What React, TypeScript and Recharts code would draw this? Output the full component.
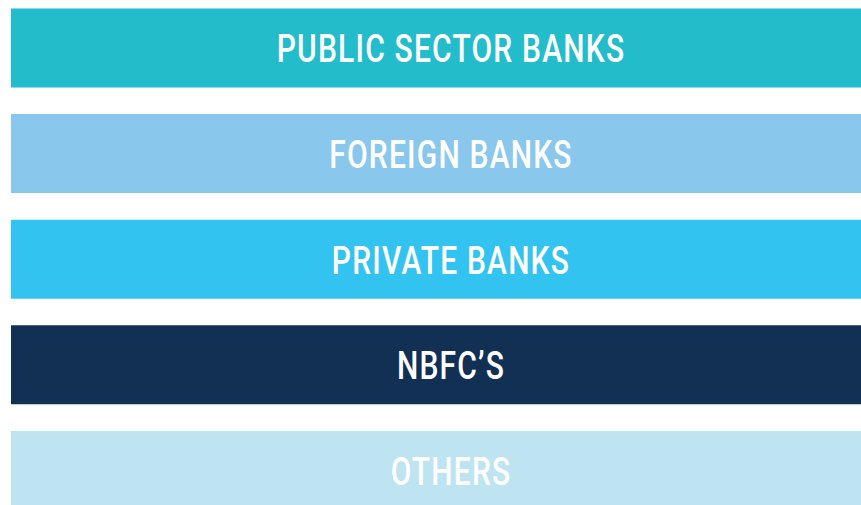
import React from 'react';
import { BarChart, Bar, XAxis, YAxis, Cell, LabelList } from 'recharts';

const categories = ['PUBLIC SECTOR BANKS', 'FOREIGN BANKS', 'PRIVATE BANKS', 'NBFC’S', 'OTHERS'];
const values = [1, 1, 1, 1, 1];
const colors = ['#22BCCB', '#89C7ED', '#33C3F0', '#122F54', '#BEE4F2'];

const data = categories.map((name, i) => ({ name, value: values[i] }));

// centred white caption inside each bar, squeezed to look condensed
const renderLabel = (props: any) => {
  const { x, y, width, height, value } = props;
  const cx = Number(x) + Number(width) / 2;
  const cy = Number(y) + Number(height) / 2;
  return (
    <g transform={`translate(${cx},${cy + 1}) scale(0.79,1)`}>
      <text
        x={0}
        y={0}
        fill="#FFFFFF"
        textAnchor="middle"
        dominantBaseline="central"
        fontFamily="Roboto, sans-serif"
        fontSize={38}
        fontWeight={500}
        letterSpacing={1.5}
      >
        {value}
      </text>
    </g>
  );
};

export default function App() {
  return (
    <div style={{ position: 'absolute', left: 8, top: 8, width: 853, height: 497, overflow: 'hidden' }}>
      <div style={{ marginTop: -13.5 }}>
        <BarChart
          width={883}
          height={528}
          data={data}
          layout="vertical"
          margin={{ top: 0, right: 0, bottom: 0, left: 3 }}
          barCategoryGap={13.5}
        >
          <XAxis type="number" domain={[0, 1]} hide />
          <YAxis type="category" dataKey="name" hide />
          <Bar dataKey="value" isAnimationActive={false}>
            {data.map((d, i) => (
              <Cell key={d.name} fill={colors[i]} />
            ))}
            <LabelList dataKey="name" content={renderLabel} />
          </Bar>
        </BarChart>
      </div>
    </div>
  );
}
